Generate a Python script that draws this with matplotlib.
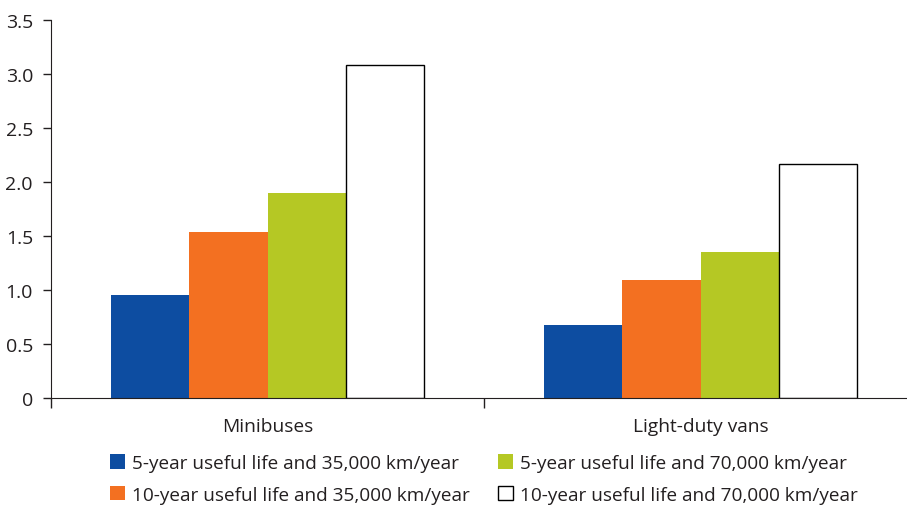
import matplotlib
matplotlib.use("Agg")
import matplotlib.pyplot as plt
from matplotlib.patches import Patch
import numpy as np

plt.rcParams['font.family'] = ['Open Sans', 'DejaVu Sans']

# data
categories = ['Minibuses', 'Light-duty vans']
series = ['5-year useful life and 35,000 km/year',
          '10-year useful life and 35,000 km/year',
          '5-year useful life and 70,000 km/year',
          '10-year useful life and 70,000 km/year']
vals_5y_35k = [0.95, 0.68]
vals_10y_35k = [1.54, 1.09]
vals_5y_70k = [1.90, 1.35]
vals_10y_70k = [3.08, 2.17]
yticks = [0, 0.5, 1.0, 1.5, 2.0, 2.5, 3.0, 3.5]
ytick_labels = ['0', '0.5', '1.0', '1.5', '2.0', '2.5', '3.0', '3.5']

colors = ['#0D4DA1', '#F37021', '#B5C824', 'white']
all_vals = [vals_5y_35k, vals_10y_35k, vals_5y_70k, vals_10y_70k]
txt = '#231F20'

fig = plt.figure(figsize=(9.07, 5.06), dpi=100)
ax = fig.add_axes([51/907, 107/506, 866/907, 378/506])

x = np.arange(len(categories))
w = 0.181
for i, (v, c) in enumerate(zip(all_vals, colors)):
    edge = 'black' if c == 'white' else c
    lw = 1.0 if c == 'white' else 0
    ax.bar(x + (i - 1.5) * w, v, w, color=c, edgecolor=edge, linewidth=lw, zorder=2)

ax.set_xlim(-0.5, 1.5)
ax.set_ylim(0, 3.5)
ax.set_yticks(yticks)
ax.set_yticklabels(ytick_labels)
# group boundaries get tick marks, group names sit between them
ax.set_xticks([-0.5, 0.5, 1.5])
ax.set_xticklabels(['', '', ''])
ax.set_xticks(x, minor=True)
ax.set_xticklabels(categories, minor=True)
ax.tick_params(axis='x', which='minor', length=0, pad=14, labelsize=13.8, colors=txt)
ax.tick_params(axis='x', which='major', length=7, width=1, direction='out', color=txt)
ax.tick_params(axis='y', length=6, width=1, direction='out', labelsize=14, pad=7,
               colors=txt)
for s in ['top', 'right']:
    ax.spines[s].set_visible(False)
ax.spines['left'].set_color(txt)
ax.spines['bottom'].set_color(txt)

handles = [Patch(facecolor=c, edgecolor=('black' if c == 'white' else c),
                 linewidth=(1 if c == 'white' else 0)) for c in colors]
fig.legend(handles, series, ncol=2, loc='center', bbox_to_anchor=(484/907, 1 - 480/506),
           frameon=False, fontsize=13.7, handlelength=0.8, handleheight=0.8,
           handletextpad=0.35, columnspacing=1.5, labelspacing=0.7,
           labelcolor=txt)

fig.savefig('out.png', dpi=100)
